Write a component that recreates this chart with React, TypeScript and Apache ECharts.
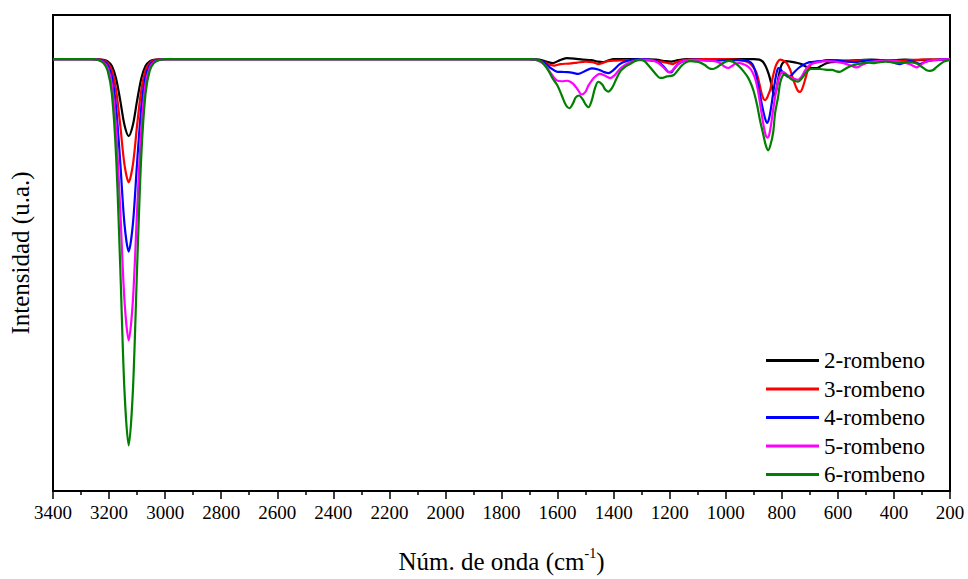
import React, { useEffect, useRef } from 'react';
import * as echarts from 'echarts';

const FONT = "'Times New Roman', 'Liberation Serif', serif";

const seriesNames = ['2-rombeno', '3-rombeno', '4-rombeno', '5-rombeno', '6-rombeno'];
const seriesColors = ['#000000', '#ff0000', '#0000ff', '#ff00ff', '#008000'];

const xMin = 200;
const xMax = 3400;
const xStep = 200;

// [wavenumber (cm-1), intensity (a.u., 0 = baseline, negative = absorption)]
const rombeno2: [number, number][] = [
  [3400, 0], [3260, 0], [3240, -0.15], [3220, -0.8], [3205, -2.3], [3190, -7], [3175, -19.6], [3160, -42.2], [3145, -67.2],
  [3130, -78.5], [3115, -67.2], [3100, -42.2], [3085, -19.6], [3070, -7], [3055, -2.3], [3040, -0.8], [3020, -0.15], [3000, 0],
  [1700, 0], [1665, -0.5], [1640, -2.5], [1617, -4], [1595, -1.5], [1568, 1], [1540, 0.5], [1510, -0.5], [1480, -1],
  [1455, -2.5], [1440, -3], [1420, -1.5], [1400, 0], [1360, 0], [1300, 0], [1250, -0.5], [1215, -2], [1195, -2.5],
  [1170, -1], [1140, 0], [1100, 0], [1050, 0], [1000, 0], [950, 0], [900, 0], [880, -0.5], [868, -2.5], [858, -7],
  [847, -15], [835, -28], [828, -37], [820, -32], [814, -22], [808, -13], [802, -6.5], [794, -3], [785, -2], [770, -2.5],
  [750, -3.5], [730, -5], [711, -8], [690, -9], [676, -9], [660, -7], [640, -4], [620, -3], [590, -2], [560, -1.5],
  [520, -1], [480, -0.5], [440, -1], [400, -1], [360, -0.5], [320, -1], [280, -0.5], [240, -0.5], [200, 0],
];

const rombeno3: [number, number][] = [
  [3400, 0], [3260, 0], [3240, -0.25], [3220, -1.2], [3205, -3.8], [3190, -11.3], [3175, -31.4], [3160, -67.5], [3145, -107.5],
  [3130, -125.5], [3115, -107.5], [3100, -67.5], [3085, -31.4], [3070, -11.3], [3055, -3.8], [3040, -1.2], [3020, -0.25], [3000, 0],
  [1700, 0], [1670, -1], [1645, -3.5], [1625, -6], [1610, -6.5], [1590, -5], [1560, -4.5], [1530, -3.5], [1500, -2.5],
  [1475, -3], [1455, -5], [1440, -4], [1420, -2], [1390, -1.5], [1350, -1], [1300, -1], [1260, -1.5], [1230, -2.5],
  [1205, -4], [1190, -5], [1175, -3], [1150, -1], [1100, 0], [1050, 0], [1000, 0], [960, -0.5], [930, -2], [915, -4],
  [905, -7], [895, -11], [889, -15], [880, -25], [872, -35], [865, -40.5], [859, -41.7], [852, -39], [845, -34], [841, -31],
  [832, -18], [823, -8], [815, -3], [806, -0.5], [798, -1], [790, -2], [780, -5], [770, -11], [760, -20], [750, -28],
  [742, -32.5], [735, -33.3], [727, -30], [718, -22], [708, -12], [700, -7], [692, -4], [680, -3], [660, -2], [640, -1],
  [610, -1], [580, -1.5], [555, -2], [530, -1.5], [500, -1], [460, -1], [420, -1], [380, -1.5], [340, -1], [300, -0.5],
  [260, -0.5], [220, -0.5], [200, 0],
];

const rombeno4: [number, number][] = [
  [3400, 0], [3260, 0], [3240, -0.4], [3220, -2], [3205, -5.9], [3190, -17.6], [3175, -49], [3160, -105.5], [3145, -168],
  [3130, -196], [3115, -168], [3100, -105.5], [3085, -49], [3070, -17.6], [3055, -5.9], [3040, -2], [3020, -0.4], [3000, 0],
  [1700, 0], [1670, -1], [1645, -4], [1625, -9], [1603, -12.7], [1585, -13], [1565, -13.3], [1545, -14], [1526, -15],
  [1505, -12.5], [1478, -9.3], [1455, -10.5], [1435, -13], [1419, -14.3], [1400, -11], [1378, -5], [1355, -2], [1330, -0.5],
  [1300, 0], [1265, -1], [1240, -3], [1220, -8], [1205, -13], [1195, -13.5], [1185, -10], [1170, -5], [1150, -2],
  [1120, -0.5], [1080, -1], [1040, -1.5], [1000, -1], [960, -1], [935, -1.5], [920, -2], [905, -5], [895, -12], [883, -28],
  [872, -45], [862, -58], [853, -65], [845, -60], [836, -45], [830, -33], [824, -22], [818, -13], [812, -9], [805, -10],
  [798, -13], [788, -16], [777, -18], [768, -17], [755, -13], [740, -9], [725, -6], [710, -4], [700, -3], [680, -2.5],
  [660, -2], [630, -1], [600, -1.5], [570, -2.5], [540, -3], [510, -2], [480, -1], [450, -1], [420, -2], [395, -4],
  [379, -5], [360, -3.5], [345, -2], [330, -2.5], [318, -4], [307, -5], [295, -3.5], [280, -2], [260, -1], [230, -0.5],
  [200, 0],
];

const rombeno5: [number, number][] = [
  [3400, 0], [3260, 0], [3240, -0.6], [3220, -2.9], [3205, -8.6], [3190, -25.8], [3175, -71.5], [3160, -154.5], [3145, -246],
  [3130, -286.5], [3115, -246], [3100, -154.5], [3085, -71.5], [3070, -25.8], [3055, -8.6], [3040, -2.9], [3020, -0.6], [3000, 0],
  [1700, 0], [1670, -1.5], [1645, -6], [1625, -14], [1603, -21.7], [1585, -22.5], [1565, -22], [1545, -25], [1528, -31],
  [1514, -36], [1500, -33], [1490, -27], [1470, -19], [1449, -15], [1430, -17], [1413, -19.3], [1395, -16], [1378, -10],
  [1354, -5], [1330, -2], [1300, -0.5], [1260, -1.5], [1240, -4], [1220, -9], [1205, -13.3], [1192, -12], [1180, -8],
  [1160, -3], [1130, -1], [1100, -1], [1070, -1.5], [1040, -2], [1020, -4], [1005, -7.5], [991, -9], [978, -7],
  [965, -4.5], [950, -4], [930, -6], [915, -9], [905, -13], [895, -20], [885, -32], [875, -50], [866, -66], [858, -77],
  [851, -80], [845, -77], [838, -66], [829, -48], [820, -32], [812, -21], [804, -15], [795, -13], [785, -15], [770, -18],
  [755, -20], [742, -21], [730, -18], [718, -12], [705, -7], [694, -5], [670, -3], [640, -2], [610, -2.5], [580, -4],
  [555, -6.5], [533, -8.3], [515, -6], [490, -3], [460, -2], [430, -1.5], [400, -2], [370, -3], [345, -5], [330, -7],
  [319, -8.3], [305, -6], [290, -3], [260, -1], [230, -0.5], [200, 0],
];

const rombeno6: [number, number][] = [
  [3400, 0], [3260, 0], [3240, -0.8], [3220, -4], [3205, -11.8], [3190, -35.3], [3175, -98.3], [3160, -212.5], [3145, -338],
  [3130, -393.5], [3115, -338], [3100, -212.5], [3085, -98.3], [3070, -35.3], [3055, -11.8], [3040, -4], [3020, -0.8], [3000, 0],
  [1700, 0], [1675, -0.5], [1660, -2], [1641, -8], [1628, -14], [1617, -20], [1600, -27], [1585, -37], [1570, -47],
  [1558, -50], [1545, -45], [1535, -39], [1523, -37], [1510, -41], [1500, -46], [1490, -49], [1478, -42], [1467, -30],
  [1455, -23], [1440, -26], [1430, -31], [1419, -33], [1405, -29], [1390, -20], [1375, -12], [1360, -8], [1342, -5],
  [1325, -2], [1306, -0.5], [1290, -2], [1271, -8], [1250, -15], [1235, -19], [1225, -19], [1210, -17.5], [1195, -17],
  [1185, -16], [1170, -11], [1155, -6], [1140, -3], [1128, -2], [1110, -2.5], [1095, -3], [1075, -6], [1058, -9.5],
  [1045, -10], [1030, -8], [1010, -4], [990, -1.8], [975, -2.5], [962, -5], [950, -8], [935, -13], [922, -18], [910, -25],
  [900, -33], [888, -47], [878, -62], [866, -77], [857, -88], [849, -93], [841, -88], [831, -75], [824, -55], [813, -38],
  [806, -24], [797, -17], [789, -15], [780, -17], [768, -20], [755, -22], [742, -23], [730, -20], [715, -14], [705, -11],
  [694, -10], [680, -10], [665, -10], [650, -10.5], [635, -11], [620, -11], [605, -12.5], [593, -13], [580, -11],
  [565, -8.5], [550, -6.5], [530, -5], [510, -4], [490, -3.5], [470, -4], [450, -3], [430, -2.5], [410, -3], [390, -4],
  [370, -3.5], [350, -3], [330, -3.5], [315, -5], [300, -8], [285, -11], [272, -12], [260, -11], [248, -8], [235, -5],
  [222, -2.5], [212, -1.5], [200, -1],
];

const seriesData = [rombeno2, rombeno3, rombeno4, rombeno5, rombeno6];

export default function App() {
  const ref = useRef<HTMLDivElement>(null);

  useEffect(() => {
    document.body.style.margin = '0';
    const chart = echarts.init(ref.current!, null, { renderer: 'svg' });
    chart.setOption({
      animation: false,
      backgroundColor: '#ffffff',
      grid: {
        left: 53,
        right: 18,
        top: 15,
        bottom: 79,
        show: true,
        borderColor: '#000000',
        borderWidth: 2,
        backgroundColor: 'transparent',
      },
      legend: {
        orient: 'vertical',
        left: 761,
        top: 344,
        icon: 'rect',
        itemWidth: 53,
        itemHeight: 3,
        itemGap: 5.5,
        data: seriesNames,
        textStyle: { fontFamily: FONT, fontSize: 23, color: '#000000', lineHeight: 22 },
      },
      xAxis: {
        type: 'value',
        inverse: true,
        min: xMin,
        max: xMax,
        interval: xStep,
        axisLine: { show: true, onZero: false, lineStyle: { color: '#000000', width: 2 } },
        axisTick: { show: true, inside: false, length: 8, lineStyle: { color: '#000000', width: 1.5 } },
        minorTick: { show: true, splitNumber: 2, length: 4, lineStyle: { color: '#000000', width: 1.5 } },
        splitLine: { show: false },
        axisLabel: {
          color: '#000000',
          fontFamily: FONT,
          fontSize: 19,
          margin: 12,
          formatter: (v: number) => String(v),
        },
        name: '{a|Núm. de onda (cm}{s|-1}{a|)}',
        nameLocation: 'middle',
        nameGap: 55,
        nameTextStyle: {
          rich: {
            a: { fontFamily: FONT, fontSize: 25, color: '#000000', lineHeight: 28, verticalAlign: 'bottom' },
            s: { fontFamily: FONT, fontSize: 14, color: '#000000', lineHeight: 14, verticalAlign: 'top' },
          },
        },
      },
      yAxis: {
        type: 'value',
        min: -440,
        max: 45,
        axisLine: { show: true, lineStyle: { color: '#000000', width: 2 } },
        axisTick: { show: false },
        axisLabel: { show: false },
        splitLine: { show: false },
        name: 'Intensidad (u.a.)',
        nameLocation: 'middle',
        nameGap: 20,
        nameTextStyle: { fontFamily: FONT, fontSize: 25, color: '#000000' },
      },
      series: seriesNames.map((name, i) => ({
        name,
        type: 'line',
        data: seriesData[i],
        showSymbol: false,
        symbol: 'none',
        smooth: 0.3,
        color: seriesColors[i],
        lineStyle: { color: seriesColors[i], width: 2.2 },
        emphasis: { disabled: true },
      })),
    });
    return () => chart.dispose();
  }, []);

  return <div ref={ref} style={{ width: 968, height: 579 }} />;
}
